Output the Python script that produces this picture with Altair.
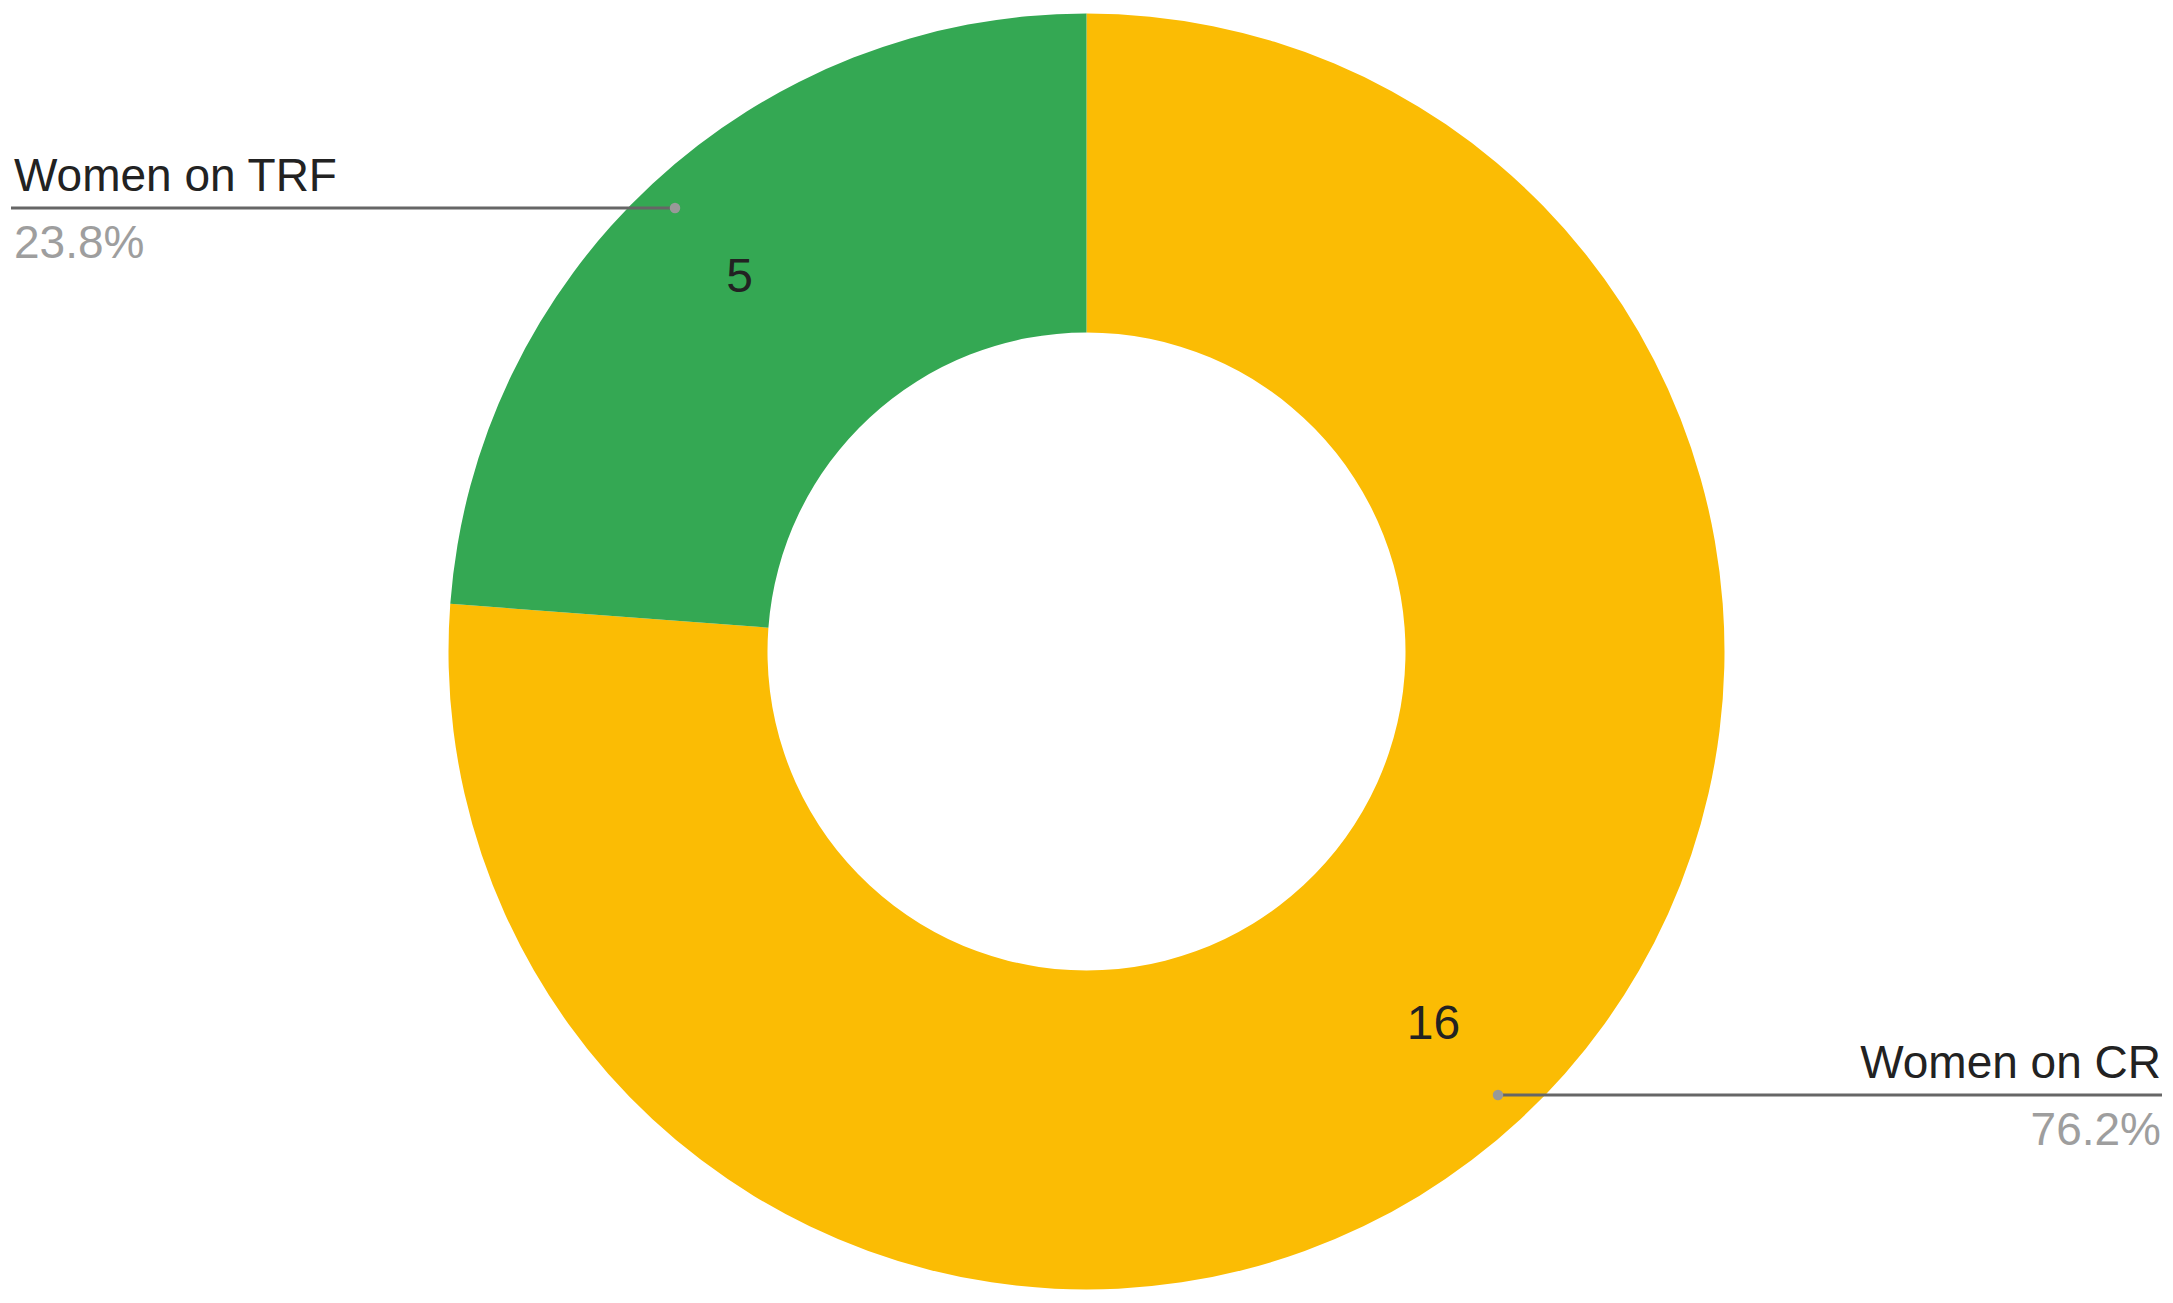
import math
import altair as alt
import pandas as pd

categories = ["Women on CR", "Women on TRF"]
values = [16, 5]
colors = ["#fbbc04", "#34a853"]

W, H = 2157, 1287
CX, CY = W / 2, H / 2
R_OUT, R_IN = 638, 319
R_DOT = 605
R_VAL = 510

total = sum(values)
rows = []
cum = 0
for i, (c, v) in enumerate(zip(categories, values)):
    mid = (cum + v / 2) / total
    cum += v
    ang = 2 * math.pi * mid
    dx = CX + R_DOT * math.sin(ang)
    dy = CY - R_DOT * math.cos(ang)
    left = dx < CX
    rows.append(dict(
        cat=c, value=v, order=i,
        pct=f"{100 * v / total:.1f}%",
        dot_x=dx, dot_y=dy,
        end_x=3 if left else W - 3,
        text_x=6 if left else W - 4,
        name_y=dy - 17, pct_y=dy + 50,
        align="left" if left else "right",
    ))
df = pd.DataFrame(rows)

color_scale = alt.Scale(domain=categories, range=colors)

base = alt.Chart(df).encode(
    theta=alt.Theta("value:Q", stack=True),
    order=alt.Order("order:Q"),
)

arcs = base.mark_arc(outerRadius=R_OUT, innerRadius=R_IN).encode(
    color=alt.Color("cat:N", scale=color_scale, legend=None)
)

vals = base.mark_text(radius=R_VAL, font="Liberation Sans", fontSize=48, color="#222222").encode(
    text=alt.Text("value:Q")
)

lines = alt.Chart(df).mark_rule(color="#666666", strokeWidth=3).encode(
    x=alt.X("dot_x:Q", scale=None),
    x2="end_x:Q",
    y=alt.Y("dot_y:Q", scale=None),
)

dots = alt.Chart(df).mark_circle(color="#999999", opacity=1, size=110).encode(
    x=alt.X("dot_x:Q", scale=None),
    y=alt.Y("dot_y:Q", scale=None),
)

left_df = df[df["align"] == "left"]
right_df = df[df["align"] == "right"]

def labels(d, align):
    names = alt.Chart(d).mark_text(align=align, baseline="alphabetic", font="Liberation Sans",
                                   fontSize=46, color="#222222").encode(
        x=alt.X("text_x:Q", scale=None), y=alt.Y("name_y:Q", scale=None), text="cat:N")
    pcts = alt.Chart(d).mark_text(align=align, baseline="alphabetic", font="Liberation Sans",
                                  fontSize=46, color="#9e9e9e").encode(
        x=alt.X("text_x:Q", scale=None), y=alt.Y("pct_y:Q", scale=None), text="pct:N")
    return names + pcts

chart = alt.layer(arcs, vals, lines, dots, labels(left_df, "left"), labels(right_df, "right")).properties(
    width=W, height=H, padding=0, autosize=alt.AutoSizeParams(type="none"), background="white"
).configure_view(stroke=None)

chart.save("out.html", embed_options={"renderer": "svg", "actions": False})
